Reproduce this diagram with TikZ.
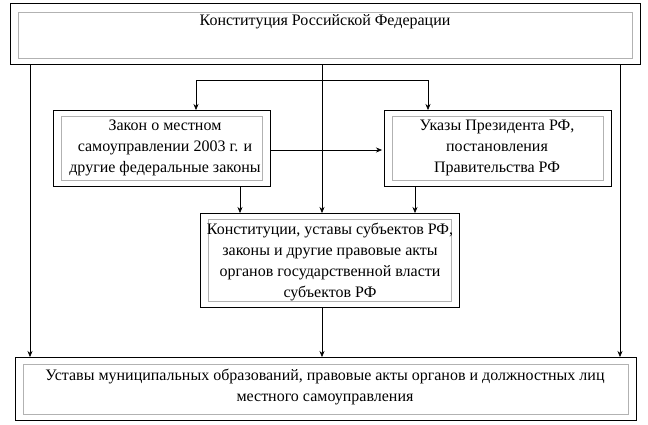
\documentclass[tikz,border=0pt]{standalone}
\usepackage{fontspec}
\setmainfont{Liberation Serif}
\usetikzlibrary{arrows.meta}
\tikzset{
  outerbox/.style={draw=black, line width=0.6pt},
  innerbox/.style={draw=gray!60, line width=0.6pt},
  boxtext/.style={align=center, inner sep=0pt, font=\fontsize{16}{21}\selectfont},
  link/.style={-{Stealth[length=6pt,width=5pt]}, line width=0.5pt}
}
\begin{document}
\begin{tikzpicture}[x=1pt,y=-1pt]
\useasboundingbox (0,0) rectangle (648,424);
% top
\draw[outerbox] (10,3) rectangle (640,64);
\draw[innerbox] (18,12) rectangle (632,58);
\node[boxtext] (konst) at (325,22) {Конституция Российской Федерации};
% left and right
\draw[outerbox] (53,110) rectangle (270,186);
\draw[innerbox] (61,116) rectangle (262,180);
\node[boxtext] (zakon) at (165,148) {Закон о местном\\самоуправлении 2003 г. и\\другие федеральные законы};
\draw[outerbox] (384,110) rectangle (611,186);
\draw[innerbox] (392,116) rectangle (603,180);
\node[boxtext] (ukaz) at (497,148) {Указы Президента РФ,\\постановления\\Правительства РФ};
% middle
\draw[outerbox] (200,213) rectangle (459,307);
\draw[innerbox] (208,219) rectangle (451,301);
\node[boxtext] (subj) at (330,262) {Конституции, уставы субъектов РФ,\\законы и другие правовые акты\\органов государственной власти\\субъектов РФ};
% bottom
\draw[outerbox] (15,357) rectangle (636,420);
\draw[innerbox] (23,364) rectangle (628,414);
\node[boxtext] (ustav) at (325,387) {Уставы муниципальных образований, правовые акты органов и должностных лиц\\местного самоуправления};
% connectors
\coordinate (split) at (322,80);
\draw[link] (30,64) -- (30,357);
\draw[link] (620,64) -- (620,357);
\draw[link] (322,64) -- (322,213);
\draw[link] (split) -| (196,110);
\draw[link] (split) -| (428,110);
\draw[link] (270,150) -- (382,150);
\draw[link] (240,186) -- (240,213);
\draw[link] (415,186) -- (415,213);
\draw[link] (322,307) -- (322,357);
\end{tikzpicture}
\end{document}
